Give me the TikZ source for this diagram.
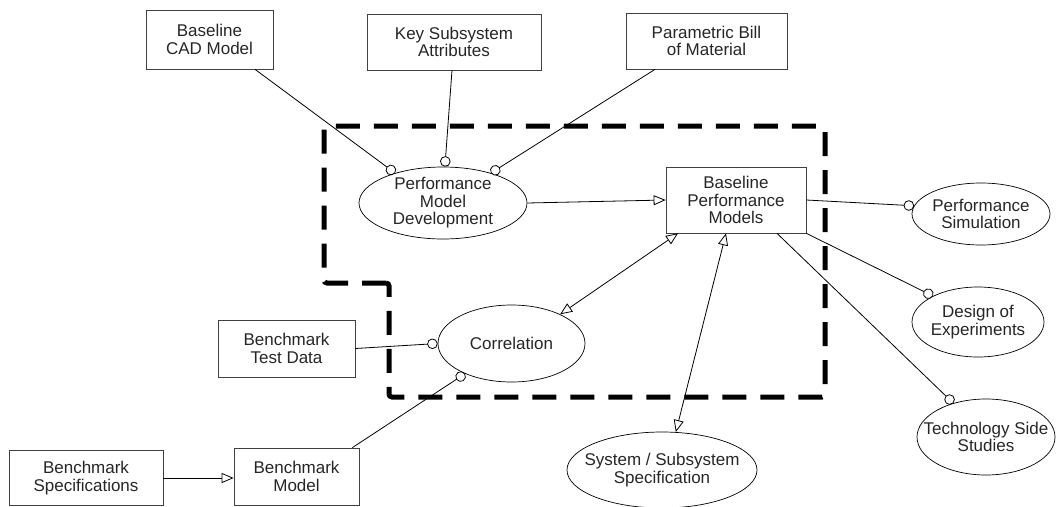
\documentclass[tikz,border=0pt]{standalone}
\usepackage{fontspec}
\setmainfont{Liberation Sans}
\usetikzlibrary{shapes.geometric,arrows.meta}
\begin{document}
\begin{tikzpicture}[x=1pt,y=-1pt,
  every node/.style={font=\fontsize{17}{17.5}\selectfont, align=center, text=black!85},
  box/.style={draw=black!75, line width=0.7pt, rectangle, inner sep=0pt},
  oval/.style={draw=black, line width=0.7pt, ellipse, inner sep=0pt},
  link/.style={line width=0.8pt, -{Circle[fill=white,length=10.5pt,width=10.5pt]}},
  flow/.style={line width=0.8pt, -{Triangle[open,length=12pt,width=10pt]}},
  flowboth/.style={line width=0.8pt, {Triangle[open,length=12pt,width=10pt]}-{Triangle[open,length=12pt,width=10pt]}},
  boundary/.style={line width=5pt, dash pattern=on 24pt off 14pt, rounded corners=3pt}
]
\useasboundingbox (0,0) rectangle (1057,506);

% scope boundary of the performance modelling activity
\draw[boundary] (389,283) -- (324,283) -- (324,126) -- (825,126) -- (825,397) -- (389,397) -- cycle;

% input boxes
\node[box, minimum width=127pt, minimum height=59pt] (cad) at (209.5,39.5) {Baseline\\CAD Model};
\node[box, minimum width=174pt, minimum height=56pt] (ksa) at (454,42) {Key Subsystem\\Attributes};
\node[box, minimum width=161pt, minimum height=56pt] (pbm) at (706.5,41) {Parametric Bill\\of Material};
\node[box, minimum width=140pt, minimum height=66pt] (bpm) at (736,200) {Baseline\\Performance\\Models};
\node[box, minimum width=137pt, minimum height=57pt] (btd) at (286.5,348.5) {Benchmark\\Test Data};
\node[box, minimum width=154pt, minimum height=55pt] (bs) at (86,478) {Benchmark\\Specifications};
\node[box, minimum width=125pt, minimum height=57pt] (bm) at (296.5,476.5) {Benchmark\\Model};

% activities
\node[oval, minimum width=168pt, minimum height=72pt, label={center:{Performance\\Model\\Development}}] (pmd) at (443,203) {};
\node[oval, minimum width=138pt, minimum height=62pt, label={center:{Performance\\Simulation}}] (psim) at (981,214) {};
\node[oval, minimum width=132pt, minimum height=70pt, label={center:{Design of\\Experiments}}] (doe) at (978,322) {};
\node[oval, minimum width=138pt, minimum height=76pt, label={center:{Technology Side\\Studies}}] (tss) at (986,437) {};
\node[oval, minimum width=190pt, minimum height=76pt, label={center:{System / Subsystem\\Specification}}] (sys) at (662,470) {};
\node[oval, minimum width=147pt, minimum height=77pt, label={center:{Correlation}}] (corr) at (511.5,343.5) {};

% connectors
\draw[link] ([xshift=45.5pt]cad.south) -- (pmd.148);
\draw[link] ([xshift=-2pt]ksa.south) -- (pmd.87);
\draw[link] ([xshift=-51.5pt]pbm.south) -- (pmd.32);
\draw[flow] (pmd.east) -- (bpm.west);
\draw[link] (bpm.east) -- (psim.173);
\draw[link] (bpm.south east) -- (doe.150);
\draw[link] ([xshift=41pt]bpm.south) -- (tss.134);
\draw[flowboth] (corr.31) -- ([xshift=-58pt]bpm.south);
\draw[flowboth] (sys.70) -- ([xshift=-10pt]bpm.south);
\draw[link] (btd.east) -- (corr.west);
\draw[link] ([xshift=-7pt]bm.north east) -- (corr.213);
\draw[flow] (bs.east) -- (bs.east -| bm.west);
\end{tikzpicture}
\end{document}
